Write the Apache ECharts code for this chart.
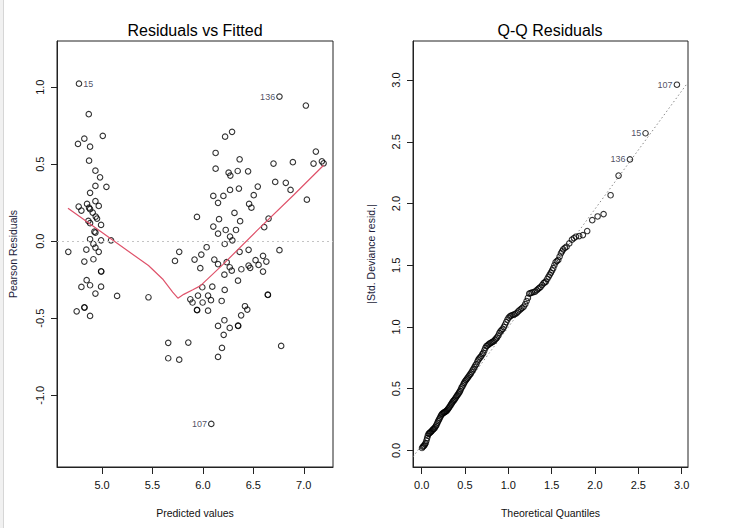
<!DOCTYPE html>
<html>
<head>
    <meta charset="utf-8">
    <title>Residuals vs Fitted / Q-Q Residuals</title>
    <script src="https://cdn.jsdelivr.net/npm/echarts@6.0.0/dist/echarts.min.js"></script>
    <style>
        html, body { margin: 0; padding: 0; background: #fff; }
    </style>
</head>
<body>
    <div id="container" style="width: 745px;height:528px;"></div>
    <script type="text/javascript">
        // left panel: fitted values vs pearson residuals
        var residX = [
            4.771,4.868,4.824,4.761,4.881,5.007,4.871,4.934,4.980,4.934,
            5.043,4.881,4.934,4.967,4.768,4.795,4.851,4.871,4.881,4.907,
            4.937,4.950,4.864,4.881,4.990,4.924,4.934,4.881,4.990,5.089,
            4.665,4.844,4.914,4.934,4.967,4.824,4.914,4.990,4.992,4.847,
            4.795,4.881,4.990,4.934,5.149,5.460,4.824,4.826,4.748,4.881,
            6.759,7.021,6.289,6.220,6.126,7.120,6.364,6.126,6.255,6.272,
            6.345,6.448,6.700,6.892,7.097,7.180,7.197,6.717,6.822,6.869,
            7.031,6.544,6.357,6.269,6.504,6.103,6.203,6.150,6.458,6.481,
            5.941,6.160,6.313,6.369,6.651,6.608,6.103,6.150,6.226,6.328,
            6.269,6.292,6.216,6.364,6.453,6.759,6.037,5.984,5.765,5.723,
            5.917,5.974,6.113,6.150,6.236,6.266,6.286,6.213,6.381,6.453,
            6.469,6.522,6.552,6.596,6.629,6.596,6.348,5.994,6.093,6.216,
            5.951,6.051,5.875,5.897,5.997,6.080,6.186,5.941,5.943,6.051,
            6.417,6.440,6.379,6.213,6.150,6.266,6.348,6.350,6.206,6.189,
            6.150,5.656,5.855,5.656,5.765,6.083,6.643,6.645,6.776
        ];
        var residY = [
            1.023,0.825,0.666,0.632,0.614,0.684,0.523,0.458,0.415,0.359,
            0.353,0.314,0.260,0.229,0.225,0.199,0.242,0.218,0.208,0.186,
            0.160,0.147,0.132,0.117,0.106,0.062,0.056,0.013,0.006,0.006,
            -0.069,-0.055,-0.018,-0.041,-0.069,-0.132,-0.117,-0.195,-0.197,-0.253,
            -0.297,-0.286,-0.295,-0.340,-0.355,-0.364,-0.429,-0.431,-0.455,-0.485,
            0.939,0.881,0.710,0.679,0.573,0.582,0.532,0.471,0.445,0.426,
            0.456,0.454,0.504,0.513,0.504,0.519,0.506,0.385,0.379,0.333,
            0.270,0.355,0.342,0.333,0.299,0.294,0.294,0.249,0.242,0.218,
            0.158,0.143,0.184,0.130,0.147,0.091,0.095,0.049,0.073,0.073,
            0.030,0.006,-0.018,-0.069,-0.056,-0.058,-0.039,-0.087,-0.069,-0.128,
            -0.119,-0.175,-0.119,-0.149,-0.136,-0.169,-0.191,-0.217,-0.182,-0.158,
            -0.173,-0.123,-0.154,-0.095,-0.132,-0.197,-0.256,-0.299,-0.295,-0.316,
            -0.353,-0.353,-0.377,-0.398,-0.398,-0.383,-0.388,-0.446,-0.448,-0.451,
            -0.422,-0.444,-0.481,-0.513,-0.550,-0.563,-0.548,-0.550,-0.608,-0.693,
            -0.751,-0.660,-0.658,-0.760,-0.769,-1.186,-0.347,-0.349,-0.680
        ];
        var residLabels = ['15', '136', '107'];
        var residLabelIdx = [0, 50, 145];

        // smoother (red line)
        var smoothX = [4.662, 5.00, 5.46, 5.60, 5.70, 5.752, 5.81, 5.90, 5.974, 6.20, 6.538, 6.90, 7.197];
        var smoothY = [0.214, 0.056, -0.158, -0.245, -0.33, -0.370, -0.345, -0.315, -0.290, -0.15, 0.07, 0.30, 0.493];

        var residXTicks = [5.0, 5.5, 6.0, 6.5, 7.0];
        var residYTicks = [-1.0, -0.5, 0.0, 0.5, 1.0];

        // right panel: half-normal Q-Q
        var qqX = [
            0.004,0.013,0.021,0.029,0.038,0.046,0.055,0.063,0.071,0.080,
            0.088,0.097,0.105,0.114,0.122,0.131,0.139,0.148,0.156,0.165,
            0.173,0.182,0.191,0.199,0.208,0.217,0.225,0.234,0.243,0.252,
            0.260,0.269,0.278,0.287,0.296,0.305,0.314,0.323,0.332,0.341,
            0.350,0.359,0.368,0.377,0.386,0.396,0.405,0.414,0.424,0.433,
            0.442,0.452,0.461,0.471,0.481,0.490,0.500,
            0.511,0.522,0.532,0.543,0.554,0.565,0.576,0.587,0.598,0.609,
            0.620,0.631,0.643,0.654,0.665,0.677,0.688,0.700,0.711,0.723,
            0.735,0.747,0.758,0.770,0.782,0.795,0.807,0.819,0.832,0.844,
            0.857,0.870,0.883,0.896,0.909,0.922,0.935,0.949,0.962,0.976,
            0.990,1.004,
            1.018,1.033,1.048,1.063,1.079,1.095,1.111,1.127,1.144,1.161,
            1.178,1.195,1.211,1.226,1.241,1.256,1.272,1.291,1.310,1.328,
            1.345,1.359,1.373,1.390,1.407,1.420,1.434,1.450,1.465,1.478,
            1.491,1.505,1.518,1.531,1.545,1.560,1.576,1.592,1.607,1.620,
            1.633,1.652,1.672,1.703,1.734,1.757,1.780,1.818,1.860,1.910,
            1.968,2.030,2.099,2.180,2.272,2.403,2.583,2.945
        ];
        var qqY = [
            0.02,0.03,0.035,0.04,0.05,0.06,0.08,0.10,0.12,0.135,
            0.14,0.145,0.15,0.157,0.163,0.17,0.175,0.18,0.19,0.20,
            0.21,0.225,0.238,0.25,0.26,0.275,0.285,0.295,0.30,0.305,
            0.308,0.312,0.316,0.32,0.328,0.337,0.345,0.355,0.365,0.375,
            0.385,0.395,0.403,0.41,0.42,0.43,0.44,0.45,0.46,0.47,
            0.48,0.495,0.51,0.52,0.535,0.547,0.56,
            0.57,0.58,0.59,0.60,0.612,0.622,0.635,0.648,0.66,0.675,
            0.69,0.70,0.72,0.735,0.745,0.755,0.765,0.78,0.79,0.81,
            0.83,0.845,0.85,0.857,0.865,0.87,0.875,0.88,0.885,0.895,
            0.905,0.915,0.93,0.95,0.965,0.975,0.985,1.00,1.02,1.04,
            1.06,1.075,
            1.086,1.092,1.097,1.10,1.105,1.113,1.125,1.135,1.145,1.155,
            1.165,1.185,1.21,1.235,1.27,1.275,1.279,1.283,1.287,1.298,
            1.309,1.317,1.325,1.34,1.355,1.362,1.368,1.39,1.408,1.424,
            1.44,1.458,1.476,1.50,1.524,1.534,1.543,1.57,1.597,1.613,
            1.629,1.64,1.65,1.677,1.707,1.72,1.731,1.736,1.744,1.777,
            1.865,1.895,1.914,2.067,2.226,2.357,2.569,2.962
        ];
        var qqLabels = ['136', '15', '107'];
        var qqLabelIdx = [qqX.length - 3, qqX.length - 2, qqX.length - 1];

        // dotted reference line
        var qqLineX = [-0.10, 3.073];
        var qqLineY = [-0.052, 2.981];

        var qqTicks = [0.0, 0.5, 1.0, 1.5, 2.0, 2.5, 3.0];

        var FONT = '"Liberation Sans", Arial, Helvetica, sans-serif';
        var INK = '#111';

        function pairs(xs, ys) {
            return xs.map(function (x, i) { return [x, ys[i]]; });
        }
        function withLabels(data, idx, names, sides) {
            idx.forEach(function (k, j) {
                data[k] = {
                    value: data[k],
                    label: {
                        show: true,
                        formatter: names[j],
                        position: sides[j],
                        distance: 1,
                        fontSize: 9,
                        color: '#1c1c3a',
                        fontFamily: FONT
                    }
                };
            });
            return data;
        }

        var residData = withLabels(pairs(residX, residY), residLabelIdx, residLabels, ['right', 'left', 'left']);
        var qqData = withLabels(pairs(qqX, qqY), qqLabelIdx, qqLabels, ['left', 'left', 'left']);

        function fmt(v) { return v.toFixed(1); }

        function xAxisFor(grid, min, max, ticks, name) {
            return {
                type: 'value', gridIndex: grid, min: min, max: max,
                axisLine: { show: true, onZero: false, lineStyle: { color: '#222', width: 1 } },
                axisTick: { show: true, length: 7, customValues: ticks, lineStyle: { color: '#222' } },
                axisLabel: { customValues: ticks, formatter: fmt, fontSize: 11, color: INK, margin: 12, fontFamily: FONT },
                splitLine: { show: false },
                name: name, nameLocation: 'middle', nameGap: 40,
                nameTextStyle: { fontSize: 10.5, color: INK, fontFamily: FONT }
            };
        }
        function yAxisFor(grid, min, max, ticks, name, gap) {
            return {
                type: 'value', gridIndex: grid, min: min, max: max,
                axisLine: { show: true, onZero: false, lineStyle: { color: '#222', width: 1 } },
                axisTick: { show: true, length: 6, customValues: ticks, lineStyle: { color: '#222' } },
                axisLabel: { customValues: ticks, formatter: fmt, rotate: 90, fontSize: 11, color: INK, margin: 12, fontFamily: FONT },
                splitLine: { show: false },
                name: name, nameLocation: 'middle', nameGap: gap,
                nameTextStyle: { fontSize: 10.5, color: '#1c1c3a', fontFamily: FONT }
            };
        }

        var myChart = echarts.init(document.getElementById('container'), null, { renderer: 'svg' });

        var option = {
            animation: false,
            backgroundColor: '#fff',
            graphic: [
                { type: 'rect', shape: { x: 0, y: 0, width: 3, height: 528 }, style: { fill: '#f1f1f1' }, silent: true },
                { type: 'line', shape: { x1: 3.5, y1: 0, x2: 3.5, y2: 528 }, style: { stroke: '#d6d6d6', lineWidth: 1 }, silent: true },
                { type: 'text', x: 195, y: 30, silent: true,
                  style: { text: 'Residuals vs Fitted', fill: '#000', font: '16px ' + FONT,
                           textAlign: 'center', textVerticalAlign: 'middle', align: 'center', verticalAlign: 'middle' } },
                { type: 'text', x: 550, y: 30, silent: true,
                  style: { text: 'Q-Q Residuals', fill: '#000', font: '16px ' + FONT,
                           textAlign: 'center', textVerticalAlign: 'middle', align: 'center', verticalAlign: 'middle' } }
            ],
            grid: [
                { left: 57, top: 41, width: 276, height: 426, show: true, borderColor: '#222', borderWidth: 1, backgroundColor: 'transparent' },
                { left: 413, top: 41, width: 275, height: 426, show: true, borderColor: '#222', borderWidth: 1, backgroundColor: 'transparent' }
            ],
            xAxis: [
                xAxisFor(0, 4.553, 7.29, residXTicks, 'Predicted values'),
                xAxisFor(1, -0.10, 3.073, qqTicks, 'Theoretical Quantiles')
            ],
            yAxis: [
                yAxisFor(0, -1.466, 1.30, residYTicks, 'Pearson Residuals', 39),
                yAxisFor(1, -0.134, 3.316, qqTicks, '|Std. Deviance resid.|', 37)
            ],
            series: [
                {
                    name: 'resid', type: 'scatter', xAxisIndex: 0, yAxisIndex: 0,
                    data: residData, symbol: 'circle', symbolSize: 5.5,
                    itemStyle: { color: 'rgba(255,255,255,0)', borderColor: '#000', borderWidth: 1.1 },
                    markLine: {
                        silent: true, symbol: 'none',
                        label: { show: false },
                        lineStyle: { color: '#c4c4c4', type: [2, 3], width: 1 },
                        data: [{ yAxis: 0 }]
                    },
                    z: 3
                },
                {
                    name: 'smooth', type: 'line', xAxisIndex: 0, yAxisIndex: 0,
                    data: pairs(smoothX, smoothY), showSymbol: false, symbol: 'none',
                    lineStyle: { color: '#DF536B', width: 1.2 }, z: 4
                },
                {
                    name: 'qqline', type: 'line', xAxisIndex: 1, yAxisIndex: 1,
                    data: pairs(qqLineX, qqLineY), showSymbol: false, symbol: 'none',
                    lineStyle: { color: '#8a8a8a', width: 1, type: [1.5, 2.5] }, z: 2
                },
                {
                    name: 'qq', type: 'scatter', xAxisIndex: 1, yAxisIndex: 1,
                    data: qqData, symbol: 'circle', symbolSize: 5.5,
                    itemStyle: { color: 'rgba(255,255,255,0)', borderColor: '#000', borderWidth: 1.1 },
                    z: 3
                }
            ]
        };

        myChart.setOption(option);
    </script>
</body>
</html>
